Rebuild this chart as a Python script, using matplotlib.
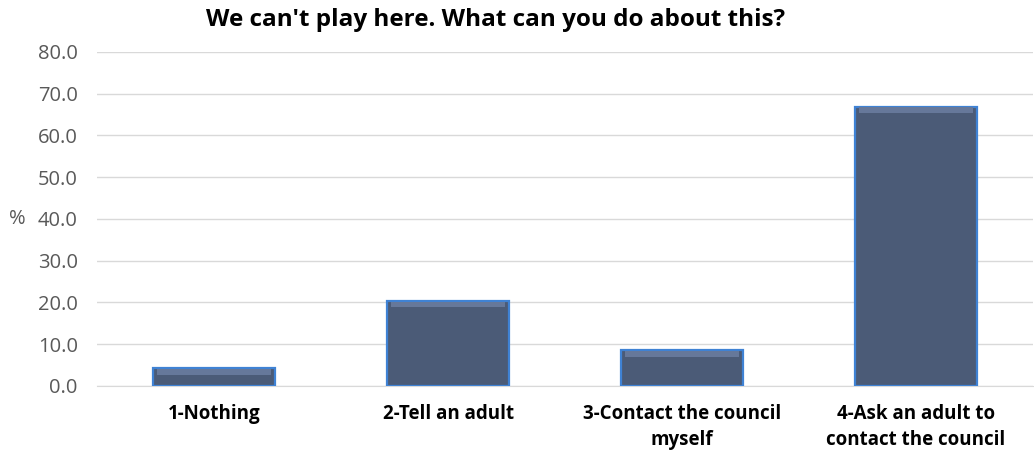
import numpy as np
import matplotlib.pyplot as plt

categories = ["1-Nothing", "2-Tell an adult", "3-Contact the council\nmyself",
              "4-Ask an adult to\ncontact the council"]
values = [4.3, 20.4, 8.6, 66.9]
yticks = [0, 10, 20, 30, 40, 50, 60, 70, 80]

plt.rcParams['font.family'] = ['Open Sans', 'DejaVu Sans']

fig = plt.figure(figsize=(10.34, 4.55), dpi=100)
ax = fig.add_axes([0.094, 0.152, 0.905, 0.734])

x = np.arange(len(categories))
ax.bar(x, values, width=0.52, color="#4b5b77", edgecolor="#3f82d4", linewidth=1.6, zorder=3)
# lighter top strip for the bevel look
ax.bar(x, [1.4] * len(values), bottom=[v - 1.6 for v in values], width=0.49,
       color="#66789a", linewidth=0, zorder=4)

ax.set_xlim(-0.5, len(categories) - 0.5)
ax.set_ylim(0, 80)
ax.set_yticks(yticks)
ax.set_yticklabels([f"{t:.1f}" for t in yticks], color="#595959", fontsize=14.5)
ax.set_xticks(x)
ax.set_xticklabels(categories, fontsize=13.5, fontweight="bold", color="black",
                   linespacing=1.4)
ax.tick_params(axis="x", length=0, pad=13)
ax.tick_params(axis="y", length=0, pad=14)

ax.grid(axis="y", color="#d9d9d9", linewidth=1, zorder=0)
for s in ["top", "right", "left"]:
    ax.spines[s].set_visible(False)
ax.spines["bottom"].set_color("#d9d9d9")

ax.set_ylabel("%", rotation=0, color="#595959", fontsize=14.5, va="center", ha="center")
ax.yaxis.set_label_coords(-0.085, 0.5)

fig.text(0.479, 0.955, "We can't play here. What can you do about this?", ha="center", va="center",
         fontsize=17.5, fontweight="bold")

fig.savefig("out.png", dpi=100)
